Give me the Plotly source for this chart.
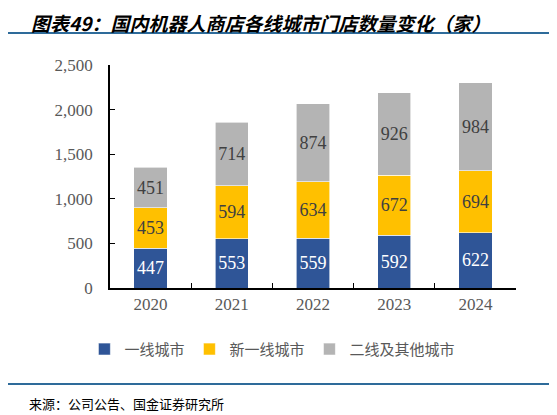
import plotly.graph_objects as go

years = ["2020", "2021", "2022", "2023", "2024"]
tier1 = [447, 553, 559, 592, 622]
new_tier1 = [453, 594, 634, 672, 694]
tier2_other = [451, 714, 874, 926, 984]

series_names = ["一线城市", "新一线城市", "二线及其他城市"]
colors = ["#2F5597", "#FFC000", "#B4B4B4"]
label_colors = ["white", "#404040", "#404040"]

serif = "Liberation Serif, Times New Roman, serif"
cjk = "Noto Sans CJK SC, sans-serif"

fig = go.Figure()
for name, vals, c, lc in zip(series_names, [tier1, new_tier1, tier2_other], colors, label_colors):
    fig.add_trace(go.Bar(
        x=years, y=vals, name=name,
        marker=dict(color=c, line=dict(color="white", width=0.6)),
        text=vals, textposition="inside", insidetextanchor="middle",
        textfont=dict(family=serif, size=18, color=lc),
        cliponaxis=False,
    ))

# page body has an 8px default margin, so the figure is 8px smaller
fig.update_layout(
    barmode="stack",
    bargap=0.59,
    width=549, height=407,
    margin=dict(l=102, r=41, t=57, b=127, autoexpand=False),
    paper_bgcolor="white", plot_bgcolor="white",
    legend=dict(
        orientation="h", x=0.4, xanchor="center", y=-0.275, yanchor="middle",
        font=dict(family=cjk, size=15, color="#595959"),
        traceorder="normal",
    ),
)

fig.update_xaxes(
    showline=True, linecolor="black", linewidth=1.5,
    ticks="inside", ticklen=5, tickcolor="black", tickson="boundaries",
    tickfont=dict(family=serif, size=17, color="#595959"),
    showgrid=False,
)
fig.update_yaxes(
    range=[0, 2500], dtick=500, tickformat=",",
    showline=True, linecolor="black", linewidth=1.5,
    ticks="inside", ticklen=5, tickcolor="black",
    tickfont=dict(family=serif, size=17, color="#595959"),
    ticklabelstandoff=12,
    showgrid=False, zeroline=False,
)

# title and source, with their rules
fig.add_annotation(
    text="<b><i>图表49：国内机器人商店各线城市门店数量变化（家）</i></b>",
    xref="paper", yref="paper", x=-0.197, y=1.2556, xanchor="left", yanchor="top",
    borderpad=0,
    showarrow=False, font=dict(family=cjk, size=19, color="black"),
)
fig.add_annotation(
    text="来源：公司公告、国金证券研究所",
    xref="paper", yref="paper", x=-0.204, y=-0.516, xanchor="left", yanchor="middle",
    showarrow=False, font=dict(family=cjk, size=13, color="black"),
)
fig.add_shape(type="line", xref="paper", yref="paper", x0=-0.259, x1=1.089,
              y0=1.1435, y1=1.1435, line=dict(color="#2E6B9A", width=2))
fig.add_shape(type="line", xref="paper", yref="paper", x0=-0.259, x1=1.089,
              y0=-0.4305, y1=-0.4305, line=dict(color="#2E6B9A", width=2))

fig.write_html("out.html")
